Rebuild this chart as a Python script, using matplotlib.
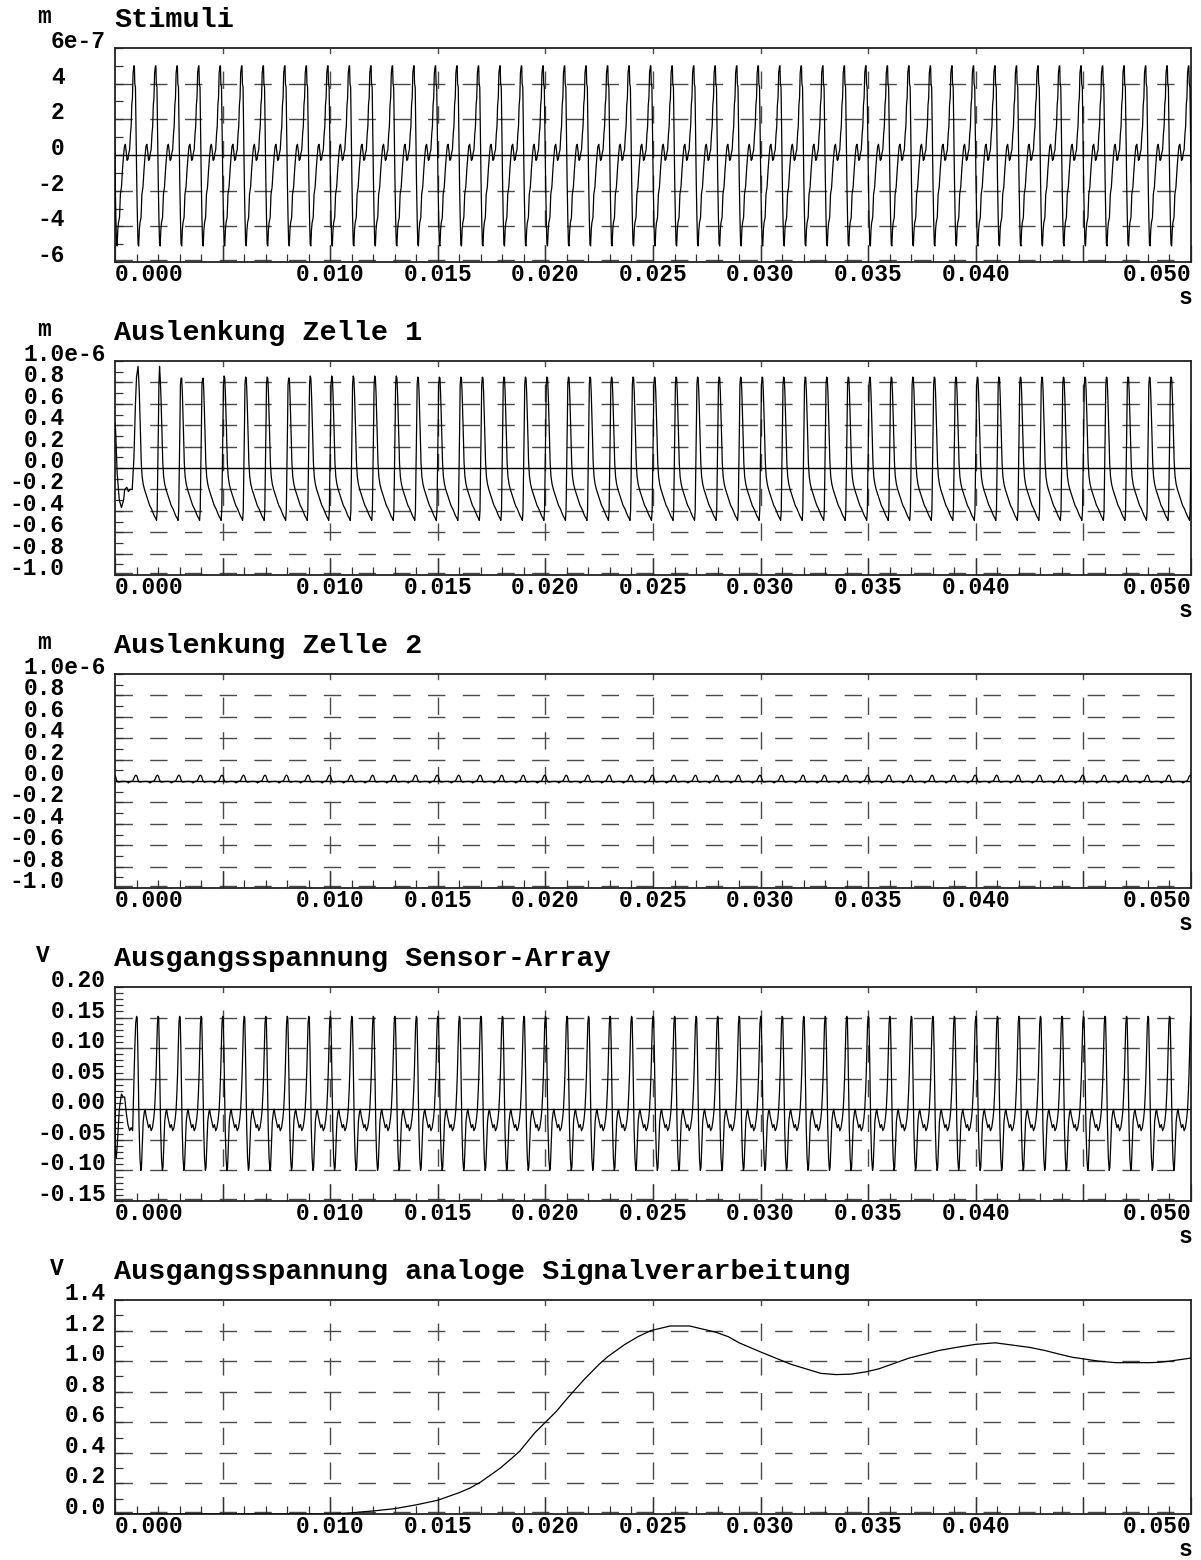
import matplotlib
matplotlib.use("Agg")
import matplotlib.pyplot as plt
from matplotlib import transforms

# ---------------- data ----------------
x_major = [0.000, 0.005, 0.010, 0.015, 0.020, 0.025, 0.030, 0.035, 0.040, 0.045, 0.050]
x_labels = {0.000: "0.000", 0.010: "0.010", 0.015: "0.015", 0.020: "0.020",
            0.025: "0.025", 0.030: "0.030", 0.035: "0.035", 0.040: "0.040", 0.050: "0.050"}
period_ms = 1.0

# Panel 1: Stimuli (unit 1e-7 m), one cycle starting at a peak
stim_phase = [0.00, 0.02, 0.04, 0.07, 0.10, 0.13, 0.16, 0.19, 0.22, 0.25, 0.28, 0.33, 0.37,
              0.42, 0.47, 0.52, 0.56, 0.60, 0.64, 0.68, 0.72, 0.76, 0.80, 0.84, 0.87, 0.90,
              0.93, 0.96, 1.00]
stim_value = [5.0, 5.0, 4.0, 3.8, 1.0, -1.5, -3.5, -5.0, -5.1, -4.2, -3.8, -3.5, -2.2,
              -1.8, -0.8, 0.0, 0.5, 0.6, 0.2, -0.3, -0.25, 0.1, 0.3, 1.2, 1.6, 2.8,
              3.2, 4.6, 5.0]
stim_first_peak_ms = -0.12
stim_cycles = 51

# Panel 2: Auslenkung Zelle 1 (unit 1e-6 m)
z1_start_t_ms = [0.00, 0.03, 0.10, 0.20, 0.30, 0.40, 0.45, 0.55, 0.62, 0.70, 0.80, 0.88, 0.95, 1.00]
z1_start_v = [0.42, 0.35, -0.05, -0.30, -0.37, -0.30, -0.20, -0.18, -0.22, -0.20, -0.20, 0.10, 0.60, 0.85]
z1_phase = [0.00, 0.03, 0.06, 0.09, 0.12, 0.15, 0.19, 0.24, 0.30, 0.38, 0.46, 0.54, 0.62, 0.70,
            0.76, 0.82, 0.86, 0.89, 0.92, 0.95, 0.97, 1.00]
z1_value = [0.85, 0.84, 0.70, 0.50, 0.28, 0.05, -0.08, -0.15, -0.20, -0.25, -0.30, -0.35, -0.38,
            -0.42, -0.45, -0.47, -0.49, -0.40, 0.00, 0.45, 0.78, 0.85]
z1_first_peak_ms = 1.07
z1_cycles = 50
z1_peaks = [0.95, 0.95, 0.84, 0.83, 0.86, 0.85, 0.85, 0.84, 0.86, 0.86, 0.86, 0.86, 0.86]

# Panel 3: Auslenkung Zelle 2 (unit 1e-6 m)
z2_phase = [0.00, 0.05, 0.10, 0.15, 0.20, 0.30, 0.40, 0.50, 0.60, 0.65, 0.70, 0.75, 0.85, 0.90, 0.95, 1.00]
z2_value = [0.055, 0.045, 0.010, -0.008, -0.010, -0.006, -0.004, -0.004, -0.008, -0.018, -0.012,
            -0.005, 0.000, 0.020, 0.045, 0.055]
z2_first_peak_ms = -0.03
z2_cycles = 51

# Panel 4: Ausgangsspannung Sensor-Array (V)
sa_start_t_ms = [0.00, 0.02, 0.06, 0.12, 0.20, 0.30, 0.38, 0.45, 0.52, 0.60, 0.68, 0.75, 0.82, 0.87, 0.92, 0.96]
sa_start_v = [0.090, -0.070, -0.080, -0.050, 0.000, 0.025, 0.020, 0.020, -0.005, -0.025, -0.035,
              -0.030, -0.035, 0.030, 0.100, 0.140]
sa_phase = [0.00, 0.03, 0.06, 0.09, 0.12, 0.16, 0.20, 0.23, 0.27, 0.31, 0.36, 0.40, 0.44, 0.50,
            0.56, 0.62, 0.68, 0.74, 0.80, 0.84, 0.88, 0.91, 0.94, 0.97, 1.00]
sa_value = [0.152, 0.150, 0.100, 0.040, -0.030, -0.080, -0.100, -0.095, -0.055, -0.020, -0.005,
            0.000, -0.010, -0.020, -0.030, -0.025, -0.035, -0.030, -0.015, 0.000, 0.030, 0.060,
            0.100, 0.140, 0.152]
sa_first_peak_ms = 1.0
sa_cycles = 50

# Panel 5: Ausgangsspannung analoge Signalverarbeitung (V)
asv_t = [0.000, 0.005, 0.010, 0.011, 0.012, 0.013, 0.014, 0.015, 0.0155, 0.0160, 0.0165, 0.0170,
         0.0175, 0.0179, 0.0184, 0.0188, 0.0195, 0.0200, 0.0205, 0.0211, 0.0218, 0.0225, 0.0229,
         0.0237, 0.0243, 0.0249, 0.0258, 0.0267, 0.0279, 0.0285, 0.0290, 0.0300, 0.0307, 0.0314,
         0.0321, 0.0328, 0.0335, 0.0342, 0.0349, 0.0355, 0.0362, 0.0369, 0.0376, 0.0383, 0.0391,
         0.0400, 0.0409, 0.0417, 0.0425, 0.0432, 0.0439, 0.0445, 0.0450, 0.0457, 0.0465, 0.0472,
         0.0480, 0.0485, 0.0490, 0.0495, 0.0500]
asv_v = [0.000, 0.000, 0.000, 0.008, 0.020, 0.035, 0.060, 0.090, 0.115, 0.140, 0.170, 0.210,
         0.260, 0.300, 0.360, 0.410, 0.530, 0.600, 0.670, 0.770, 0.880, 0.980, 1.030,
         1.110, 1.160, 1.200, 1.230, 1.230, 1.190, 1.160, 1.120, 1.060, 1.020, 0.980,
         0.950, 0.920, 0.912, 0.915, 0.930, 0.950, 0.985, 1.020, 1.045, 1.070, 1.090,
         1.110, 1.120, 1.105, 1.090, 1.070, 1.045, 1.025, 1.015, 1.000, 0.990, 0.990,
         0.990, 0.992, 1.000, 1.010, 1.020]

titles = ["Stimuli", "Auslenkung Zelle 1", "Auslenkung Zelle 2",
          "Ausgangsspannung Sensor-Array", "Ausgangsspannung analoge Signalverarbeitung"]
units = ["m", "m", "m", "V", "V"]
y_ticks = [
    [-6, -4, -2, 0, 2, 4, 6],
    [-1.0, -0.8, -0.6, -0.4, -0.2, 0.0, 0.2, 0.4, 0.6, 0.8, 1.0],
    [-1.0, -0.8, -0.6, -0.4, -0.2, 0.0, 0.2, 0.4, 0.6, 0.8, 1.0],
    [-0.15, -0.10, -0.05, 0.00, 0.05, 0.10, 0.15, 0.20],
    [0.0, 0.2, 0.4, 0.6, 0.8, 1.0, 1.2, 1.4],
]
y_labels = [
    ["-6", "-4", "-2", "0", "2", "4", "6e-7"],
    ["-1.0", "-0.8", "-0.6", "-0.4", "-0.2", "0.0", "0.2", "0.4", "0.6", "0.8", "1.0e-6"],
    ["-1.0", "-0.8", "-0.6", "-0.4", "-0.2", "0.0", "0.2", "0.4", "0.6", "0.8", "1.0e-6"],
    ["-0.15", "-0.10", "-0.05", "0.00", "0.05", "0.10", "0.15", "0.20"],
    ["0.0", "0.2", "0.4", "0.6", "0.8", "1.0", "1.2", "1.4"],
]
y_suffix_len = [3, 3, 3, 0, 0]
y_minor_step = [1, 0.1, 0.1, 0.01, 0.1]
unit_x_px = [44, 44, 44, 43, 57]


def periodic_trace(phase, values, first_peak_ms, n_cycles, peak_override=None):
    ts, vs = [], []
    for k in range(n_cycles):
        t0 = first_peak_ms + k * period_ms
        for j in range(len(phase) - 1):
            v = values[j]
            if j == 0 and peak_override is not None and k < len(peak_override):
                v = peak_override[k]
            ts.append((t0 + phase[j] * period_ms) * 1e-3)
            vs.append(v)
    return ts, vs


t1, v1 = periodic_trace(stim_phase, stim_value, stim_first_peak_ms, stim_cycles)
t2p, v2p = periodic_trace(z1_phase, z1_value, z1_first_peak_ms, z1_cycles, z1_peaks)
t2 = [t * 1e-3 for t in z1_start_t_ms] + t2p
v2 = z1_start_v + v2p
t3, v3 = periodic_trace(z2_phase, z2_value, z2_first_peak_ms, z2_cycles)
t4p, v4p = periodic_trace(sa_phase, sa_value, sa_first_peak_ms, sa_cycles)
t4 = [t * 1e-3 for t in sa_start_t_ms] + t4p
v4 = sa_start_v + v4p
traces = [(t1, v1), (t2, v2), (t3, v3), (t4, v4), (asv_t, asv_v)]

# ---------------- style / layout ----------------
W, H, DPI = 1201, 1560, 100
plt.rcParams["lines.scale_dashes"] = False
plt.rcParams["font.family"] = ["Liberation Mono", "DejaVu Sans Mono"]
plt.rcParams["font.weight"] = "bold"

AX_L, AX_R, AX_H = 115, 1191, 214
tops = [48, 361, 674, 987, 1300]
TICK_FS = 16.5
TITLE_FS = 20.5
GRID_C = "#4a4a4a"
DASH = (0, (12.5, 12.5))
char_w = 0.6 * TICK_FS * DPI / 72.0

fig = plt.figure(figsize=(W / DPI, H / DPI), dpi=DPI)
fig.patch.set_facecolor("white")


def fx(px):
    return px / W


def fy(py):
    return 1 - py / H


for i in range(5):
    top = tops[i]
    ax = fig.add_axes([fx(AX_L), fy(top + AX_H), (AX_R - AX_L) / W, AX_H / H])
    yt = y_ticks[i]
    ymin, ymax = yt[0], yt[-1]
    ax.set_xlim(0, 0.050)
    ax.set_ylim(ymin, ymax)

    # grid
    for yv in yt:
        if abs(yv) < 1e-12 and i < 4:
            ax.axhline(yv, color="black", lw=1.0, zorder=2)
        elif yv == ymin:
            off = transforms.offset_copy(ax.transData, fig=fig, x=0, y=2.5, units="dots")
            ax.plot([0, 0.050], [yv, yv], color=GRID_C, lw=1.0, ls=DASH, transform=off,
                    zorder=1, clip_on=False)
        elif yv != ymax:
            ax.axhline(yv, color=GRID_C, lw=1.0, ls=DASH, zorder=1)
    for xv in x_major[1:-1]:
        ax.axvline(xv, color=GRID_C, lw=1.0, ls=DASH, zorder=1)

    # trace
    tt, vv = traces[i]
    ax.plot(tt, vv, color="black", lw=0.9, zorder=3)

    # ticks
    ax.set_xticks(x_major)
    ax.set_xticks([k * 0.001 for k in range(51)], minor=True)
    ax.set_yticks(yt)
    step = y_minor_step[i]
    n_minor = int(round((ymax - ymin) / step))
    ax.set_yticks([ymin + k * step for k in range(n_minor + 1)], minor=True)
    ax.tick_params(axis="both", which="both", direction="in", color="#333333", width=0.9,
                   labelbottom=False, labelleft=False, right=False, top=False)
    ax.tick_params(axis="x", which="major", length=12)
    ax.tick_params(axis="x", which="minor", length=6)
    ax.tick_params(axis="y", which="both", length=6)
    for sp in ax.spines.values():
        sp.set_color("#222222")
        sp.set_linewidth(1.3)

    # y tick labels (baseline at tick)
    ytr = transforms.blended_transform_factory(fig.transFigure, ax.transData)
    for yv, lab in zip(yt, y_labels[i]):
        if yv == ymax and y_suffix_len[i] > 0:
            xpx = 106
        else:
            xpx = 106 - y_suffix_len[i] * char_w
        ax.text(fx(xpx), yv, lab, transform=ytr, ha="right", va="baseline",
                fontsize=TICK_FS, fontweight="bold", clip_on=False)

    # x tick labels
    xtr = transforms.blended_transform_factory(ax.transData, fig.transFigure)
    for xv, lab in x_labels.items():
        ha = "center"
        if xv == 0.0:
            ha = "left"
        elif xv == 0.050:
            ha = "right"
        ax.text(xv, fy(top + AX_H + 19), lab, transform=xtr, ha=ha, va="baseline",
                fontsize=TICK_FS, fontweight="bold", clip_on=False)

    # title, units
    fig.text(fx(114), fy(top - 21), titles[i], ha="left", va="baseline",
             fontsize=TITLE_FS, fontweight="bold")
    fig.text(fx(unit_x_px[i]), fy(top - 25), units[i], ha="center", va="baseline",
             fontsize=TICK_FS, fontweight="bold")
    fig.text(fx(1192), fy(top + AX_H + 42), "s", ha="right", va="baseline",
             fontsize=TICK_FS, fontweight="bold")

fig.savefig("out.png", dpi=DPI, facecolor="white")
